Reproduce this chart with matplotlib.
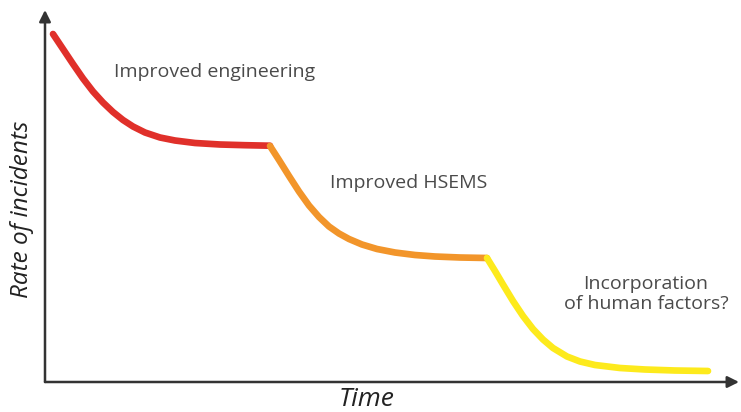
import matplotlib
matplotlib.use('Agg')
import matplotlib.pyplot as plt

# Points: time (px right of the y axis), rate (px above the x axis)
eng_time = [8, 18, 28, 38, 48, 58, 68, 78, 88, 100, 115, 130, 150, 175, 200, 225]
eng_rate = [348, 333, 318, 303.5, 290.5, 279.5, 270, 262, 255.5, 249.5, 244.5, 241.5,
            239, 237.5, 236.8, 236.3]

hsems_time = [225, 234, 244, 254, 264, 274, 284, 294, 304, 317, 332, 350, 370, 390, 415, 442]
hsems_rate = [236, 222, 206, 190.5, 176.5, 165, 155.5, 148.5, 143, 137.5, 133, 129.5,
              127, 125.5, 124.5, 124]

human_time = [442, 450, 458, 468, 478, 488, 498, 508, 522, 535, 550, 575, 600, 630, 663]
human_rate = [124, 111, 97.5, 81, 66, 53, 42.5, 34, 25.5, 20.5, 17, 14, 12.5, 11.5, 11]

segments = [
    (eng_time, eng_rate, '#e0302a'),
    (hsems_time, hsems_rate, '#f2952a'),
    (human_time, human_rate, '#fdea1c'),
]

labels = [
    ('Improved engineering', 170, 310),
    ('Improved HSEMS', 364, 199),
    ('Incorporation\nof human factors?', 601, 88),
]

fig = plt.figure(figsize=(7.41, 4.12), dpi=100)
ax = fig.add_axes([45 / 741, 30 / 412, 696 / 741, 382 / 412])
ax.set_xlim(0, 696)
ax.set_ylim(0, 382)
ax.axis('off')

# curve segments
for t, r, c in segments:
    ax.plot(t, r, color=c, lw=4.8, solid_capstyle='round', solid_joinstyle='round')

# axes drawn as arrows
arrow = dict(arrowstyle='-|>', color='#333333', lw=1.8, mutation_scale=17, shrinkA=0, shrinkB=0)
ax.annotate('', xy=(0, 372), xytext=(0, 0), arrowprops=arrow, annotation_clip=False)
ax.annotate('', xy=(694, 0), xytext=(0, 0), arrowprops=arrow, annotation_clip=False)

for txt, x, y in labels:
    ax.text(x, y, txt, fontsize=14, color='#4a4a4a', ha='center', va='center',
            family='Open Sans', linespacing=1.1)

fig.text(22 / 741, 1 - 209 / 412, 'Rate of incidents', rotation=90, fontsize=17.5,
         style='italic', color='#222222', ha='center', va='center', family='Open Sans')
fig.text(367 / 741, 1 - 399 / 412, 'Time', fontsize=19, style='italic', color='#222222',
         ha='center', va='center', family='Open Sans')

fig.savefig('out.png', dpi=100, facecolor='white')
